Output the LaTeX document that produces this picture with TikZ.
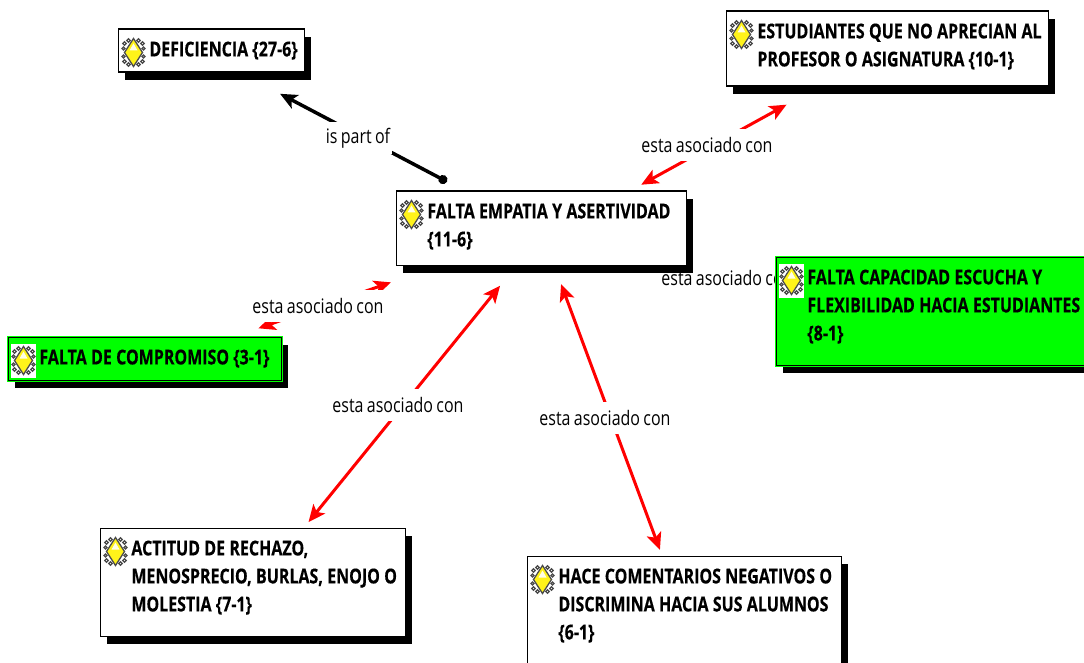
\documentclass[tikz,border=0pt]{standalone}
\usepackage{fontspec}
\setmainfont[FakeStretch=0.8, WordSpace=0.8]{Open Sans}
\newfontfamily\negrita[FakeStretch=0.78, FakeBold=0.4]{Open Sans Bold}
\usepackage{tikz}
\usetikzlibrary{arrows.meta}
\usetikzlibrary{shadows}
\usetikzlibrary{calc}
\usetikzlibrary{backgrounds}
\definecolor{verdeclave}{RGB}{0,255,0}
\tikzset{
    concepto/.style={draw=black, line width=1.8pt, fill=white, inner sep=0pt, anchor=north west,
        xshift=-0.5pt, yshift=0.5pt,
        align=left, text height=27pt, font=\fontsize{20.5}{28}\selectfont\negrita,
        execute at begin node={\leftskip=31pt \spaceskip=.21em \xspaceskip=.21em},
        general shadow={fill=black, shadow xshift=7pt, shadow yshift=-8pt}},
    clave/.style={concepto, fill=verdeclave, preaction={draw=verdeclave, line width=3pt}},
    enlace/.style={line width=3pt, draw=red, {Stealth[length=17pt,width=15pt,inset=4pt]}-{Stealth[length=17pt,width=15pt,inset=4pt]}},
    parte/.style={line width=3.5pt, draw=black, {Circle[length=9pt]}-{Stealth[length=17pt,width=15pt,inset=4pt]}},
    relacion/.style={fill=white, inner xsep=2pt, inner ysep=0pt, minimum height=32pt, font=\fontsize{20}{24}\selectfont},
    icono/.pic={
        \fill[white] (-12.5,-17) rectangle (12.5,17);
        \foreach \sx in {-1,1} \foreach \sy in {-1,1} {
            \draw[black!70, line width=1.3pt] (\sx*5,\sy*12) circle (1.8pt);
            \draw[black!70, line width=1.3pt] (\sx*9,\sy*9) circle (1.8pt);
            \draw[black!70, line width=1.3pt] (\sx*10,\sy*4) circle (1.5pt);
        }
        \draw[black!70, line width=1.3pt, fill=yellow!90!white] (0,-14) -- (9,0) -- (0,14) -- (-9,0) -- cycle;
        \fill[white!90!yellow] (0,-9) -- (4,-2) -- (-4,-2) -- cycle;
    }
}
\begin{document}
\begin{tikzpicture}[x=1pt, y=-1pt]

    \path[use as bounding box, clip] (0,0) rectangle (1084,663);

    \node[concepto, text width=186pt, text depth=16pt] (deficiencia) at (118,29) {DEFICIENCIA \{27-6\}};
    \node[concepto, text width=322pt, text depth=48pt] (estudiantes) at (726,11) {ESTUDIANTES QUE NO APRECIAN AL\\PROFESOR O ASIGNATURA \{10-1\}};
    \node[concepto, text width=290pt, text depth=47pt] (empatia) at (396,191) {FALTA EMPATIA Y ASERTIVIDAD\\\{11-6\}};
    \node[clave, text width=320pt, text depth=81pt] (capacidad) at (776,257) {FALTA CAPACIDAD ESCUCHA Y\\FLEXIBILIDAD HACIA ESTUDIANTES\\\{8-1\}};
    \node[clave, text width=273pt, text depth=16pt] (compromiso) at (8,337) {FALTA DE COMPROMISO \{3-1\}};
    \node[concepto, text width=305pt, text depth=81pt] (actitud) at (100,528) {ACTITUD DE RECHAZO,\\MENOSPRECIO, BURLAS, ENOJO O\\MOLESTIA \{7-1\}};
    \node[concepto, text width=314pt, text depth=82pt] (comentarios) at (527,556) {HACE COMENTARIOS NEGATIVOS O\\DISCRIMINA HACIA SUS ALUMNOS\\\{6-1\}};

    \foreach \n in {deficiencia,estudiantes,empatia,capacidad,compromiso,actitud,comentarios}
        \pic at ($(\n.north west)+(16,24)$) {icono};

    \begin{scope}[on background layer]
        \draw[parte, shorten <=19pt, shorten >=44pt] (empatia.154.2) -- (deficiencia.-37.7);
        \draw[enlace, shorten <=12pt, shorten >=36pt] (empatia.23.4) -- (estudiantes.209.4);
        \draw[enlace, shorten <=49pt, shorten >=25pt] (empatia.200.3) -- (compromiso.14.5);
        \draw[enlace, shorten <=25pt, shorten >=7pt] (empatia.236.8) -- (actitud.47.2);
        \draw[enlace, shorten <=19pt, shorten >=6pt] (empatia.-71.6) -- (comentarios.112);
        \draw[enlace, shorten <=40pt] (empatia) -- (capacidad);

        \node[relacion] (r1) at (358,138) {is part of};
        \node[relacion] (r2) at (707,145) {esta asociado con};
        \node[relacion] (r3) at (318,306) {esta asociado con};
        \node[relacion] (r4) at (727,278) {esta asociado con};
        \node[relacion] (r5) at (398,405) {esta asociado con};
        \node[relacion] (r6) at (605,418) {esta asociado con};
    \end{scope}

\end{tikzpicture}
\end{document}
